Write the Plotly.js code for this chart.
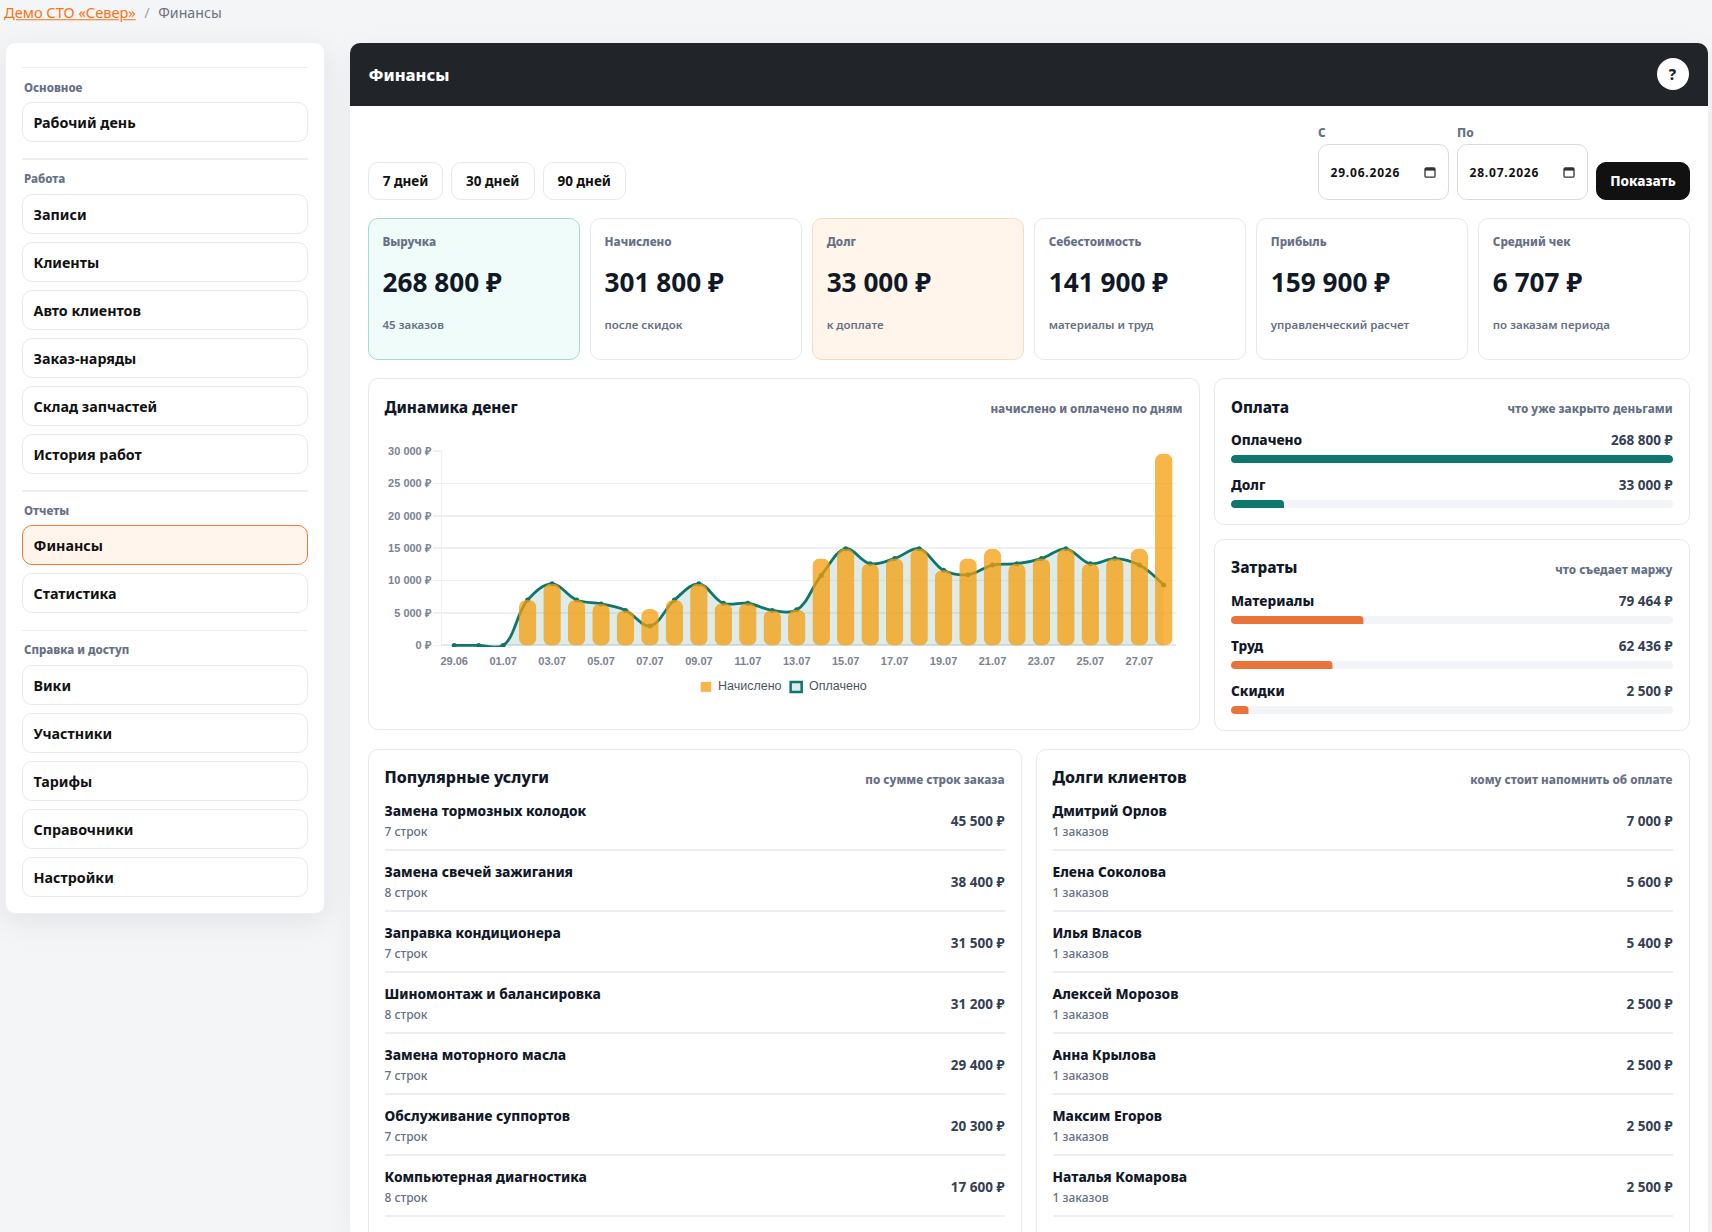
<!DOCTYPE html>
<html lang="ru"><head><meta charset="utf-8"><title>Финансы</title>
<script src="https://cdn.plot.ly/plotly-3.0.1.min.js"></script>
<style>
html,body{margin:0;padding:0;width:1712px;height:1232px;overflow:hidden;background:#f4f5f7;font-family:"Noto Sans",sans-serif;color:#111827}
#page{position:relative;width:1712px;height:1232px;overflow:hidden}
.box{position:absolute;box-sizing:border-box;background:#fff;border:1.5px solid #e7e9ee;border-radius:10px}
.t{position:absolute;white-space:nowrap;transform:translateY(-50%);line-height:1.2}
.rule{position:absolute;height:1.5px;background:#eceef1}
.nav{font-size:14.3px;font-weight:700;color:#111}
.grp{font-size:11.5px;font-weight:800;color:#667085}
.h2{font-size:15.3px;font-weight:800;color:#111827}
.h2l{font-size:16px;font-weight:800;color:#111827}
.hint{font-size:11.7px;font-weight:800;color:#667085}
.lab{font-size:13.7px;font-weight:800;color:#111827}
.val{font-size:13.5px;font-weight:700;color:#344054}
.name{font-size:13.7px;font-weight:800;color:#111827}
.sub{font-size:12px;font-weight:500;color:#667085}
.mini{position:absolute;height:8px;border-radius:4px;overflow:hidden;background:#f3f4f8}
.barlayer .point path{clip-path:inset(0 round 7px)}
.mini .barlayer .point path{clip-path:inset(0 round 4px)}
</style></head><body><div id="page">
<div id="chart" style="position:absolute;left:370px;top:436px;width:828px;height:270px;z-index:3"></div>
</div>
<script>
var dayLabels=["29.06","30.06","01.07","02.07","03.07","04.07","05.07","06.07","07.07","08.07","09.07","10.07","11.07","12.07","13.07","14.07","15.07","16.07","17.07","18.07","19.07","20.07","21.07","22.07","23.07","24.07","25.07","26.07","27.07","28.07"];
var chargedValues=[0,0,0,7000,9500,7000,6400,5400,5600,7000,9500,6500,6500,5400,5500,13400,14900,12600,13400,14900,11600,13400,14900,12600,13400,14900,12600,13400,14900,29600];
var paidValues=[0,0,0,7000,9500,7000,6400,5400,3000,7000,9500,6500,6500,5400,5500,10800,14900,12600,13400,14900,11600,10900,12400,12600,13400,14900,12600,13400,12400,9300];
var yTickValues=[0,5000,10000,15000,20000,25000,30000];
var yTickLabels=["0 ₽","5 000 ₽","10 000 ₽","15 000 ₽","20 000 ₽","25 000 ₽","30 000 ₽"];
var navGroups=[["Основное",["Рабочий день"]],["Работа",["Записи","Клиенты","Авто клиентов","Заказ-наряды","Склад запчастей","История работ"]],["Отчеты",["Финансы","Статистика"]],["Справка и доступ",["Вики","Участники","Тарифы","Справочники","Настройки"]]];
var kpiLabels=["Выручка","Начислено","Долг","Себестоимость","Прибыль","Средний чек"];
var kpiValues=["268 800 ₽","301 800 ₽","33 000 ₽","141 900 ₽","159 900 ₽","6 707 ₽"];
var kpiNotes=["45 заказов","после скидок","к доплате","материалы и труд","управленческий расчет","по заказам периода"];
var rangeButtons=["7 дней","30 дней","90 дней"];
var paymentLabels=["Оплачено","Долг"];
var paymentValues=["268 800 ₽","33 000 ₽"];
var paymentPercents=[100,12];
var costLabels=["Материалы","Труд","Скидки"];
var costValues=["79 464 ₽","62 436 ₽","2 500 ₽"];
var costPercents=[30,23,4];
var serviceNames=["Замена тормозных колодок","Замена свечей зажигания","Заправка кондиционера","Шиномонтаж и балансировка","Замена моторного масла","Обслуживание суппортов","Компьютерная диагностика"];
var serviceNotes=["7 строк","8 строк","7 строк","8 строк","7 строк","7 строк","8 строк"];
var serviceValues=["45 500 ₽","38 400 ₽","31 500 ₽","31 200 ₽","29 400 ₽","20 300 ₽","17 600 ₽"];
var debtorNames=["Дмитрий Орлов","Елена Соколова","Илья Власов","Алексей Морозов","Анна Крылова","Максим Егоров","Наталья Комарова"];
var debtorNotes=["1 заказов","1 заказов","1 заказов","1 заказов","1 заказов","1 заказов","1 заказов"];
var debtorValues=["7 000 ₽","5 600 ₽","5 400 ₽","2 500 ₽","2 500 ₽","2 500 ₽","2 500 ₽"];

var page=document.getElementById('page');
function el(css,cls,html){var d=document.createElement('div');if(cls)d.className=cls;d.style.cssText=css;if(html!=null)d.innerHTML=html;page.appendChild(d);return d;}
function box(x0,y0,x1,y1,extra){return el('left:'+x0+'px;top:'+y0+'px;width:'+(x1-x0)+'px;height:'+(y1-y0)+'px;'+(extra||''),'box');}
function tl(x,y,s,cls,extra){return el('left:'+x+'px;top:'+y+'px;'+(extra||''),'t '+cls,s);}
function tr(x,y,s,cls,extra){return el('right:'+(1712-x)+'px;top:'+y+'px;'+(extra||''),'t '+cls,s);}
function rule(x0,x1,y){return el('left:'+x0+'px;top:'+y+'px;width:'+(x1-x0)+'px','rule');}

// breadcrumb
tl(4,13,'<span style="color:#f97316;text-decoration:underline">Демо СТО «Север»</span><span style="color:#9ca3af;margin:0 8.5px">/</span><span style="color:#6b7280;font-size:14.2px">Финансы</span>','', 'font-size:14.6px');

// sidebar
box(5,42,325,913.5,'border-color:#eef0f3;box-shadow:0 8px 30px rgba(16,24,40,.08)');
var navSep=[66.5,158,490,629.5],navLab=[88,178.5,511,650],navTop=[102,194,525,665];
navGroups.forEach(function(g,i){
  rule(22,308,navSep[i]);
  tl(24,navLab[i],g[0],'grp');
  g[1].forEach(function(n,j){
    var y=navTop[i]+j*48, on=n==="Финансы";
    box(22,y,308,y+39.5,on?'background:#fff5ec;border-color:#f0793a':'');
    tl(33.5,y+(i===3?20.5:21),n,'nav');
  });
});

// main panel
el('left:350px;top:43px;width:1358px;height:1189px;background:#fff;border-radius:10px 10px 0 0;box-shadow:0 8px 30px rgba(16,24,40,.05);position:absolute');
el('left:350px;top:43px;width:1358px;height:63px;background:#212429;border-radius:10px 10px 0 0;position:absolute');
tl(368.5,75,'Финансы','', 'font-size:16.5px;font-weight:800;color:#fff');
el('position:absolute;left:1656.5px;top:57.5px;width:32px;height:32px;border-radius:50%;background:#fff');
el('left:1672.5px;top:73.5px;transform:translate(-50%,-50%);font-size:15px;font-weight:800;color:#212429','t','?');

// range buttons
var btnX=[[368,443],[451,534.5],[543,625.5]];
rangeButtons.forEach(function(b,i){
  box(btnX[i][0],162,btnX[i][1],199.5);
  el('left:'+((btnX[i][0]+btnX[i][1])/2)+'px;top:181px;transform:translate(-50%,-50%);font-size:13.5px;font-weight:700;color:#111','t',b);
});

// dates
function cal(x){return '<svg style="position:absolute;left:'+x+'px;top:166px" width="12" height="12" viewBox="0 0 12 12"><rect x="1" y="2" width="10" height="9.2" rx="1.2" fill="none" stroke="#333" stroke-width="1.3"/><rect x="1" y="2" width="10" height="2.6" fill="#333"/></svg>';}
[[1318,1449,'С','29.06.2026'],[1457,1588,'По','28.07.2026']].forEach(function(d){
  tl(d[0],132.5,d[2],'grp','font-size:12px');
  box(d[0],144,d[1],199.5,'border-color:#d8dbe3');
  tl(d[0]+12.5,172.5,d[3],'','font-size:12px;font-weight:700;color:#111;letter-spacing:.8px');
  page.insertAdjacentHTML('beforeend',cal(d[0]+106));
});
box(1596,162,1690,200,'background:#111;border-color:#111');
el('left:1643px;top:181px;transform:translate(-50%,-50%);font-size:13.5px;font-weight:800;color:#fff','t','Показать');

// KPI
kpiLabels.forEach(function(l,i){
  var x=368+i*222.07, w=212;
  var ex=i===0?'background:#effcf9;border-color:#a8d9cf':i===2?'background:#fff5eb;border-color:#fcd9b8':'';
  box(x,218,x+w,359.5,ex);
  tl(x+14.5,241.3,l,'hint');
  tl(x+14.5,282.8,kpiValues[i],'','font-size:26.2px;font-weight:700;color:#111827');
  tl(x+14.5,325,kpiNotes[i],'sub','font-weight:600;font-size:11.5px');
});

// chart card
box(368,378,1200,730);
tl(384.5,406.5,'Динамика денег','h2');
tr(1182.5,408,'начислено и оплачено по дням','hint');

// payment + cost cards
function mini(x0,x1,y,pct,color){
  var d=el('left:'+x0+'px;top:'+y+'px;width:'+(x1-x0)+'px','mini');
  Plotly.newPlot(d,[{type:'bar',orientation:'h',x:[pct],y:['v'],marker:{color:color},width:1,hoverinfo:'skip'}],
   {width:x1-x0,height:8,margin:{l:0,r:0,t:0,b:0,pad:0},paper_bgcolor:'rgba(0,0,0,0)',plot_bgcolor:'rgba(0,0,0,0)',showlegend:false,
    xaxis:{range:[0,100],visible:false,fixedrange:true},yaxis:{visible:false,fixedrange:true,type:'category'}},{staticPlot:true,displayModeBar:false});
}
box(1214,378,1690,525);
tl(1231,406.5,'Оплата','h2');
tr(1672.5,407.5,'что уже закрыто деньгами','hint');
paymentLabels.forEach(function(l,i){
  var y=440+i*45;
  tl(1231,y,l,'lab');tr(1672.5,y,paymentValues[i],'val');
  mini(1231,1673,455+i*45,paymentPercents[i],'#0f766e');
});
box(1214,539,1690,731);
tl(1231,567,'Затраты','h2');
tr(1672.5,569,'что съедает маржу','hint');
costLabels.forEach(function(l,i){
  var y=601+i*45;
  tl(1231,y,l,'lab');tr(1672.5,y,costValues[i],'val');
  mini(1231,1673,616+i*45,costPercents[i],'#e8743b');
});

// list cards
function listCard(x0,x1,title,hint,names,notes,vals){
  box(x0,749,x1,1300);
  var a=x0+16.5,b=x1-17.5;
  tl(a,778,title,'h2l');tr(b,779,hint,'hint');
  names.forEach(function(n,i){
    var y=i*61;
    tl(a,811+y,n,'name');
    tl(a,832+y,notes[i],'sub');
    tr(b,821+y,vals[i],'val');
    rule(a,b,849+y);
  });
}
listCard(368,1022,'Популярные услуги','по сумме строк заказа',serviceNames,serviceNotes,serviceValues);
listCard(1036,1690,'Долги клиентов','кому стоит напомнить об оплате',debtorNames,debtorNotes,debtorValues);

// main chart: the lower bound sits just under zero so the line at 0 is not cut by the plot edge
var divL=370,divT=436,W=828,H=270,pL=442.3,pR=1176.4,pT=450.7,pZero=645,yMax=30000,yMin=-250;
var pB=pZero+(pZero-pT)*(-yMin)/yMax;
function px(x){return (x-pL)/(pR-pL);}
function py(y){return (pB-y)/(pB-pT);}
var axisColor='#7c8292';
var tickLabels=dayLabels.filter(function(_,i){return i%2===0;});
var traces=[
 {type:'scatter',mode:'lines+markers',x:dayLabels,y:paidValues,name:'Оплачено',xaxis:'x',yaxis:'y',
  line:{color:'#0f766e',width:2.8,shape:'spline',smoothing:1.1,simplify:false},marker:{color:'#0f766e',size:5},
  fill:'tozeroy',fillcolor:'rgba(15,118,110,.14)',hoverinfo:'skip'},
 {type:'bar',x:dayLabels,y:chargedValues,name:'Начислено',xaxis:'x2',yaxis:'y2',
  marker:{color:'rgba(245,158,11,.75)',line:{width:0}},hoverinfo:'skip'}
];
function s(x0,y0,x1,y1,o){return Object.assign({type:'rect',xref:'paper',yref:'paper',x0:px(x0),x1:px(x1),y0:py(y0),y1:py(y1),layer:'above'},o);}
Plotly.newPlot('chart',traces,{
 width:W,height:H,margin:{l:pL-divL,r:divL+W-pR,t:pT-divT,b:divT+H-pB,pad:0},
 paper_bgcolor:'rgba(0,0,0,0)',plot_bgcolor:'rgba(0,0,0,0)',showlegend:false,
 bargap:0.285,barcornerradius:7,
 font:{family:'"Liberation Sans",Arial,sans-serif'},
 xaxis:{type:'category',categoryorder:'array',categoryarray:dayLabels,range:[-0.5,29.5],tickmode:'array',tickvals:tickLabels,ticktext:tickLabels,tickangle:0,
   showgrid:false,zeroline:false,showline:false,ticks:'outside',ticklen:4,tickcolor:'rgba(0,0,0,0)',tickfont:{size:11,color:axisColor,weight:700},fixedrange:true},
 yaxis:{range:[yMin,yMax],tickmode:'array',tickvals:yTickValues,ticktext:yTickLabels,gridcolor:'#eef0f3',gridwidth:1.5,
   showline:true,linecolor:'#eef0f3',linewidth:1,zeroline:true,zerolinecolor:'#e6e8ec',zerolinewidth:2,ticks:'outside',ticklen:8,tickcolor:'#eef0f3',tickwidth:1.5,
   tickfont:{size:11,color:axisColor,weight:700},fixedrange:true},
 xaxis2:{type:'category',categoryorder:'array',categoryarray:dayLabels,range:[-0.5,29.5],overlaying:'x',matches:'x',visible:false},
 yaxis2:{range:[yMin,yMax],overlaying:'y',visible:false},
 shapes:[
  s(701,681.5,711.5,691.5,{fillcolor:'rgba(245,158,11,.75)',line:{width:0}}),
  s(791,681.5,802,691.5,{fillcolor:'rgba(15,118,110,.14)',line:{color:'#0f766e',width:2.5}})
 ],
 annotations:[
  {xref:'paper',yref:'paper',x:px(716.5),y:py(686),text:'Начислено',showarrow:false,xanchor:'left',yanchor:'middle',font:{size:12.5,color:'#4b5563'}},
  {xref:'paper',yref:'paper',x:px(807.5),y:py(686),text:'Оплачено',showarrow:false,xanchor:'left',yanchor:'middle',font:{size:12.5,color:'#4b5563'}}
 ]
},{staticPlot:true,displayModeBar:false});
</script></body></html>
